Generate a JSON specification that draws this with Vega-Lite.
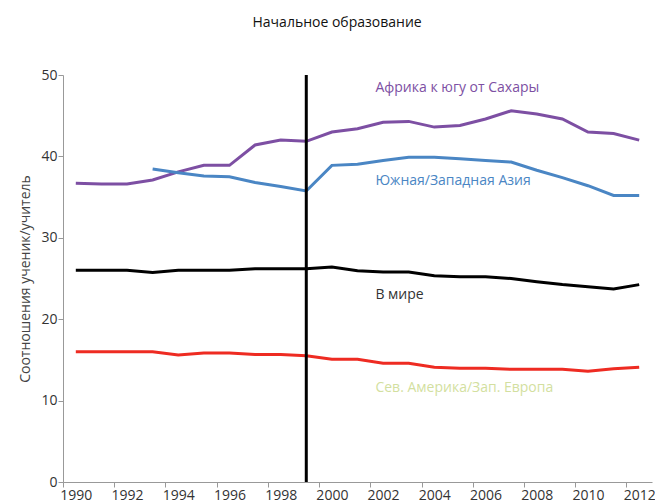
{
  "$schema": "https://vega.github.io/schema/vega-lite/v6.json",
  "width": 589,
  "height": 407,
  "autosize": "none",
  "padding": {"left": 63, "top": 75, "right": 3, "bottom": 19},
  "background": "white",
  "config": {
    "view": {"stroke": null},
    "font": "Open Sans",
    "axis": {"labelFont": "Open Sans", "titleFont": "Open Sans"}
  },
  "title": {
    "text": "Начальное образование",
    "font": "Open Sans",
    "fontSize": 14,
    "fontWeight": "normal",
    "color": "#111111",
    "anchor": "middle",
    "frame": "bounds",
    "offset": 38
  },
  "datasets": {
    "lines": [
      {"s": "africa", "year": 1990, "v": 36.7},
      {"s": "africa", "year": 1991, "v": 36.6},
      {"s": "africa", "year": 1992, "v": 36.6},
      {"s": "africa", "year": 1993, "v": 37.1},
      {"s": "africa", "year": 1994, "v": 38.1},
      {"s": "africa", "year": 1995, "v": 38.9},
      {"s": "africa", "year": 1996, "v": 38.9},
      {"s": "africa", "year": 1997, "v": 41.4},
      {"s": "africa", "year": 1998, "v": 42.0},
      {"s": "africa", "year": 1999, "v": 41.85},
      {"s": "africa", "year": 2000, "v": 43.0},
      {"s": "africa", "year": 2001, "v": 43.4},
      {"s": "africa", "year": 2002, "v": 44.2},
      {"s": "africa", "year": 2003, "v": 44.3},
      {"s": "africa", "year": 2004, "v": 43.6},
      {"s": "africa", "year": 2005, "v": 43.8},
      {"s": "africa", "year": 2006, "v": 44.6},
      {"s": "africa", "year": 2007, "v": 45.6},
      {"s": "africa", "year": 2008, "v": 45.2},
      {"s": "africa", "year": 2009, "v": 44.6},
      {"s": "africa", "year": 2010, "v": 43.0},
      {"s": "africa", "year": 2011, "v": 42.8},
      {"s": "africa", "year": 2012, "v": 42.0},
      {"s": "asia", "year": 1993, "v": 38.45},
      {"s": "asia", "year": 1994, "v": 38.0},
      {"s": "asia", "year": 1995, "v": 37.6},
      {"s": "asia", "year": 1996, "v": 37.5},
      {"s": "asia", "year": 1997, "v": 36.8},
      {"s": "asia", "year": 1998, "v": 36.3},
      {"s": "asia", "year": 1999, "v": 35.75},
      {"s": "asia", "year": 2000, "v": 38.9},
      {"s": "asia", "year": 2001, "v": 39.05},
      {"s": "asia", "year": 2002, "v": 39.5},
      {"s": "asia", "year": 2003, "v": 39.9},
      {"s": "asia", "year": 2004, "v": 39.9},
      {"s": "asia", "year": 2005, "v": 39.7},
      {"s": "asia", "year": 2006, "v": 39.5},
      {"s": "asia", "year": 2007, "v": 39.3},
      {"s": "asia", "year": 2008, "v": 38.3},
      {"s": "asia", "year": 2009, "v": 37.4},
      {"s": "asia", "year": 2010, "v": 36.4},
      {"s": "asia", "year": 2011, "v": 35.2},
      {"s": "asia", "year": 2012, "v": 35.2},
      {"s": "world", "year": 1990, "v": 26.0},
      {"s": "world", "year": 1991, "v": 26.0},
      {"s": "world", "year": 1992, "v": 26.0},
      {"s": "world", "year": 1993, "v": 25.75},
      {"s": "world", "year": 1994, "v": 26.0},
      {"s": "world", "year": 1995, "v": 26.0},
      {"s": "world", "year": 1996, "v": 26.0},
      {"s": "world", "year": 1997, "v": 26.2},
      {"s": "world", "year": 1998, "v": 26.2},
      {"s": "world", "year": 1999, "v": 26.2},
      {"s": "world", "year": 2000, "v": 26.4},
      {"s": "world", "year": 2001, "v": 25.95},
      {"s": "world", "year": 2002, "v": 25.8},
      {"s": "world", "year": 2003, "v": 25.8},
      {"s": "world", "year": 2004, "v": 25.35},
      {"s": "world", "year": 2005, "v": 25.2},
      {"s": "world", "year": 2006, "v": 25.2},
      {"s": "world", "year": 2007, "v": 25.0},
      {"s": "world", "year": 2008, "v": 24.6},
      {"s": "world", "year": 2009, "v": 24.25},
      {"s": "world", "year": 2010, "v": 24.0},
      {"s": "world", "year": 2011, "v": 23.7},
      {"s": "world", "year": 2012, "v": 24.25},
      {"s": "europe", "year": 1990, "v": 16.0},
      {"s": "europe", "year": 1991, "v": 16.0},
      {"s": "europe", "year": 1992, "v": 16.0},
      {"s": "europe", "year": 1993, "v": 16.0},
      {"s": "europe", "year": 1994, "v": 15.6},
      {"s": "europe", "year": 1995, "v": 15.85},
      {"s": "europe", "year": 1996, "v": 15.85},
      {"s": "europe", "year": 1997, "v": 15.65},
      {"s": "europe", "year": 1998, "v": 15.65},
      {"s": "europe", "year": 1999, "v": 15.5},
      {"s": "europe", "year": 2000, "v": 15.07},
      {"s": "europe", "year": 2001, "v": 15.07},
      {"s": "europe", "year": 2002, "v": 14.6},
      {"s": "europe", "year": 2003, "v": 14.6},
      {"s": "europe", "year": 2004, "v": 14.1},
      {"s": "europe", "year": 2005, "v": 13.97},
      {"s": "europe", "year": 2006, "v": 13.97},
      {"s": "europe", "year": 2007, "v": 13.84},
      {"s": "europe", "year": 2008, "v": 13.84},
      {"s": "europe", "year": 2009, "v": 13.84},
      {"s": "europe", "year": 2010, "v": 13.6},
      {"s": "europe", "year": 2011, "v": 13.9},
      {"s": "europe", "year": 2012, "v": 14.1}
    ],
    "labels": [
      {"s": "africa", "label": "Африка к югу от Сахары", "year": 2001.7, "v": 48.4},
      {"s": "asia", "label": "Южная/Западная Азия", "year": 2001.7, "v": 37.0},
      {"s": "world", "label": "В мире", "year": 2001.7, "v": 23.0},
      {"s": "europe", "label": "Сев. Америка/Зап. Европа", "year": 2001.7, "v": 11.6}
    ],
    "marker": [{"year": 1999}]
  },
  "layer": [
    {
      "data": {"name": "lines"},
      "mark": {"type": "line", "interpolate": "linear"},
      "encoding": {
        "x": {
          "field": "year",
          "type": "quantitative",
          "scale": {"domain": [1989.5, 2012.5], "nice": false, "zero": false},
          "axis": {
            "title": null,
            "grid": false,
            "values": [1989.5, 1990.5, 1991.5, 1992.5, 1993.5, 1994.5, 1995.5, 1996.5, 1997.5, 1998.5, 1999.5, 2000.5, 2001.5, 2002.5, 2003.5, 2004.5, 2005.5, 2006.5, 2007.5, 2008.5, 2009.5, 2010.5, 2011.5, 2012.5],
            "labelExpr": "(datum.value + 0.5) % 2 == 0 ? format(datum.value + 0.5, 'd') : ''",
            "labelOffset": 12.8,
            "labelOverlap": false,
            "labelFlush": false,
            "labelFontSize": 14,
            "labelColor": "#333333",
            "labelPadding": 1,
            "tickSize": 5,
            "tickColor": "#999999",
            "domainColor": "#999999"
          }
        },
        "y": {
          "field": "v",
          "type": "quantitative",
          "scale": {"domain": [0, 50], "nice": false},
          "axis": {
            "title": "Соотношения ученик/учитель",
            "titleFontSize": 14,
            "titleFontWeight": "normal",
            "titleColor": "#444444",
            "titlePadding": 8,
            "grid": false,
            "values": [0, 10, 20, 30, 40, 50],
            "labelFontSize": 14,
            "labelColor": "#333333",
            "labelPadding": 1,
            "tickSize": 5,
            "tickColor": "#999999",
            "domainColor": "#999999"
          }
        },
        "color": {
          "field": "s",
          "type": "nominal",
          "scale": {"domain": ["africa", "asia", "world", "europe"], "range": ["#7D4FA3", "#4A86C4", "#000000", "#EE2B22"]},
          "legend": null
        },
        "strokeWidth": {
          "field": "s",
          "type": "nominal",
          "scale": {"domain": ["africa", "asia", "world", "europe"], "range": [3, 3, 2, 3]},
          "legend": null
        }
      }
    },
    {
      "data": {"name": "marker"},
      "mark": {"type": "rule", "color": "#000000", "strokeWidth": 3},
      "encoding": {
        "x": {"field": "year", "type": "quantitative"}
      }
    },
    {
      "data": {"name": "labels"},
      "mark": {"type": "text", "align": "left", "baseline": "middle", "fontSize": 14, "font": "Open Sans"},
      "encoding": {
        "x": {"field": "year", "type": "quantitative"},
        "y": {"field": "v", "type": "quantitative"},
        "text": {"field": "label"},
        "color": {
          "field": "s",
          "type": "nominal",
          "scale": {"domain": ["africa", "asia", "world", "europe"], "range": ["#7D4FA3", "#4A86C4", "#333333", "#D3DFA0"]},
          "legend": null
        }
      }
    }
  ],
  "resolve": {"scale": {"color": "independent"}}
}
